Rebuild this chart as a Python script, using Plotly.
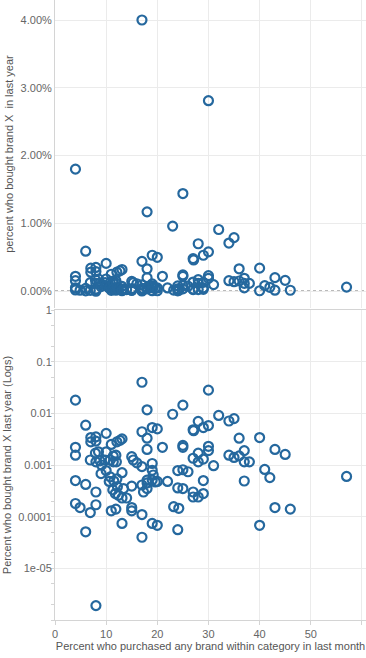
import plotly.graph_objects as go

# Percent who purchased any brand within category in last month
x_pct = [
    4.0, 4.0, 4.0, 4.0, 4.0,
    4.9,
    6.0, 6.0, 6.0,
    7.0, 7.0, 6.9, 6.9,
    8.0, 8.0, 7.9, 8.5, 8.0, 8.0, 8.0, 8.0,
    8.8, 9.1, 9.0, 9.8,
    10.0, 10.0, 10.0, 10.8, 10.6, 10.8,
    11.0, 11.0, 11.4, 11.4, 11.3, 11.5, 11.8,
    11.9, 11.9, 12.1, 12.0, 12.1, 12.2, 12.4,
    12.7, 13.1, 13.1, 13.1, 13.1, 13.4,
    14.0,
    15.0, 15.3, 15.0, 15.0, 15.0,
    16.0,
    17.0, 17.0, 17.0, 17.0, 17.3, 17.0, 17.0,
    18.0, 18.0, 18.0, 18.0, 18.0, 18.0,
    19.0, 19.0, 19.0, 19.2, 19.0, 19.6, 19.0,
    20.0, 20.0, 20.0,
    21.0, 22.0,
    23.0, 23.2,
    24.0, 24.0, 24.2, 24.0,
    25.0, 25.0, 25.0, 25.0, 25.0,
    26.0,
    27.0, 27.1, 27.0, 27.0, 27.0,
    28.0, 28.0, 28.0, 28.0,
    29.0, 29.0, 29.0, 29.0,
    30.0, 30.0, 30.0, 30.0,
    31.0, 32.0,
    34.0, 34.0, 35.0, 35.0,
    36.0, 36.0,
    37.0, 37.0, 37.0, 38.0,
    40.0, 40.0, 41.0, 42.0,
    43.0, 43.0, 45.0, 46.0, 57.0,
]

# Share who bought brand X last year (fraction)
y_frac = [
    0.018, 0.0022, 0.00155, 0.0005, 0.00018,
    0.00015,
    0.0059, 0.00042, 0.000051,
    0.0034, 0.0028, 0.00125, 0.00012,
    0.0035, 0.0029, 0.0017, 0.0018, 0.00115, 0.0003, 0.00017, 0.0000019,
    0.0012, 0.001, 0.00068, 0.00125,
    0.0041, 0.0018, 0.00078, 0.00125, 0.00048, 0.00059,
    0.0025, 0.00013, 0.00148, 0.00115, 0.00033, 0.00049, 0.00028,
    0.00155, 0.00014, 0.0028, 0.00115, 0.00054, 0.00038, 0.00026,
    0.003, 0.0032, 0.00071, 0.00023, 0.000074, 0.00035,
    0.00023,
    0.00145, 0.00125, 0.00039, 0.00015, 0.00013,
    0.0011,
    0.040, 0.0044, 0.00093, 0.00041, 0.0003, 0.00011, 0.00004,
    0.0117, 0.0033, 0.002, 0.00045, 0.00035, 0.00051,
    0.0053, 0.00107, 0.00079, 0.00064, 0.00051, 0.00047, 0.000074,
    0.0050, 0.00048, 0.000068,
    0.0022, 0.00048,
    0.0096, 0.000156,
    0.00078, 0.00036, 0.000145, 0.000056,
    0.0144, 0.0024, 0.0022, 0.00081, 0.00035,
    0.00074,
    0.0048, 0.0046, 0.00135, 0.0003, 0.00024,
    0.0070, 0.0017, 0.00115, 0.00024,
    0.0053, 0.0013, 0.0005, 0.00028,
    0.0281, 0.0058, 0.0023, 0.0019,
    0.00097, 0.0091,
    0.0071, 0.00155, 0.0079, 0.0014,
    0.0033, 0.0015,
    0.0019, 0.00115, 0.00049, 0.00115,
    0.0034, 0.000068, 0.00082, 0.00057,
    0.002, 0.00015, 0.0016, 0.00014, 0.0006,
]

x_ticks = [0, 10, 20, 30, 40, 50, 60]
lin_ticks = [0.0, 0.01, 0.02, 0.03, 0.04]
log_ticks = [1, 0.1, 0.01, 0.001, 0.0001, 0.00001]
log_tick_text = ["1", "0.1", "0.01", "0.001", "0.0001", "1e-05"]

MARK = "#25689e"
GRID = "#ebebeb"
AXL = "#d4d4d4"
TXT = "#555555"
TICK = "#666666"
FONT = "Liberation Sans"

marker = dict(symbol="circle-open", size=9, color=MARK, line=dict(width=2.2, color=MARK))

fig = go.Figure()
fig.add_trace(go.Scatter(x=x_pct, y=y_frac, mode="markers", marker=marker,
                         xaxis="x", yaxis="y", showlegend=False, cliponaxis=True))
fig.add_trace(go.Scatter(x=x_pct, y=y_frac, mode="markers", marker=marker,
                         xaxis="x2", yaxis="y2", showlegend=False, cliponaxis=True))

xr = [0, 60.8]
fig.update_layout(
    width=366, height=658,
    margin=dict(l=55, r=0, t=0, b=38, autoexpand=False),
    paper_bgcolor="white", plot_bgcolor="white",
    font=dict(family=FONT, size=11, color=TXT),
    xaxis=dict(domain=[0, 1], anchor="y", range=xr, tickvals=x_ticks,
               showticklabels=False, showgrid=True, gridcolor=GRID,
               zeroline=False, showline=False, ticks="", automargin=False),
    yaxis=dict(domain=[0.503, 1], anchor="x", range=[-0.0025, 0.04295],
               tickvals=lin_ticks, tickformat=".2%", showgrid=True,
               gridcolor=GRID, zeroline=False, showline=True,
               linecolor=AXL, ticks="", automargin=False,
               tickfont=dict(size=11, color=TICK),
               title=dict(text="percent who bought brand X  in last year",
                          font=dict(size=11, color=TXT), standoff=4)),
    xaxis2=dict(domain=[0, 1], anchor="y2", range=xr, tickvals=x_ticks,
                showgrid=True, gridcolor=GRID, zeroline=False,
                showline=True, linecolor=AXL, mirror=True,
                ticks="outside", ticklen=4, tickcolor=AXL, automargin=False,
                tickfont=dict(size=11, color=TICK),
                title=dict(text="Percent who purchased any brand within category in last month",
                           font=dict(size=11, color=TXT), standoff=0)),
    yaxis2=dict(domain=[0, 0.5], anchor="x2", type="log", range=[-6, 0],
                tickvals=log_ticks, ticktext=log_tick_text, showgrid=True,
                gridcolor=GRID, zeroline=False, showline=True,
                linecolor=AXL, mirror=True, ticks="", automargin=False,
                tickfont=dict(size=11, color=TICK),
                minor=dict(ticks="outside", ticklen=3, tickcolor=AXL,
                           showgrid=False),
                title=dict(text="Percent who bought brand X last year (Logs)",
                           font=dict(size=11, color=TXT), standoff=4)),
)

# dotted zero reference line on the linear panel
fig.add_shape(type="line", xref="x domain", yref="y", x0=0, x1=1, y0=0, y1=0,
              line=dict(color="#222222", width=1, dash="dot"), layer="below")

fig.write_html("out.html", config={"displayModeBar": False},
               post_script="document.body.style.margin='0';")
